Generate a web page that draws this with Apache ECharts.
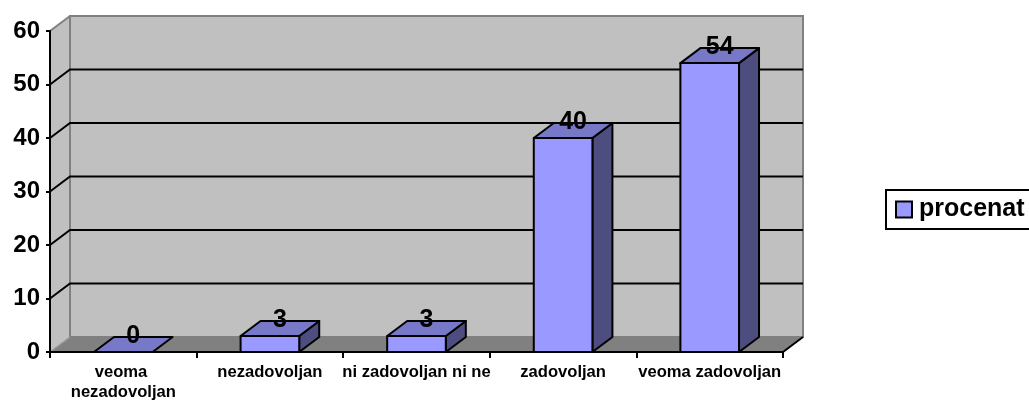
<!DOCTYPE html>
<html>
<head>
<meta charset="utf-8">
<script src="https://cdn.jsdelivr.net/npm/echarts@6/dist/echarts.min.js"></script>
<style>
html,body{margin:0;padding:0;background:#fff;}
#chart{width:1029px;height:404px;}
</style>
</head>
<body>
<div id="chart"></div>
<script>
const categories = ['veoma nezadovoljan', 'nezadovoljan', 'ni zadovoljan ni ne', 'zadovoljan', 'veoma zadovoljan'];
const values = [0, 3, 3, 40, 54];
const seriesName = 'procenat';
const gridValues = [10, 20, 30, 40, 50];

const DX = 20, DY = 15;
const FONT = '"Liberation Sans", Arial, sans-serif';

const chart = echarts.init(document.getElementById('chart'));

function wallRender(params, api) {
  const cs = params.coordSys;
  const x0 = cs.x, x1 = cs.x + cs.width, yT = cs.y, yB = cs.y + cs.height;
  return {
    type: 'group',
    children: [
      { type: 'polygon', shape: { points: [[x0, yT], [x0 + DX, yT - DY], [x0 + DX, yB - DY], [x0, yB]] },
        style: { fill: '#C0C0C0', stroke: null } },
      { type: 'rect', shape: { x: x0 + DX, y: yT - DY, width: cs.width, height: cs.height } ,
        style: { fill: '#C0C0C0', stroke: '#808080', lineWidth: 2 } },
      { type: 'line', shape: { x1: x0, y1: yT, x2: x0 + DX, y2: yT - DY },
        style: { stroke: '#808080', lineWidth: 2 } },
      { type: 'polygon', shape: { points: [[x0, yB], [x1, yB], [x1 + DX, yB - DY], [x0 + DX, yB - DY]] },
        style: { fill: '#808080', stroke: null } },
      { type: 'line', shape: { x1: x0, y1: yB, x2: x0 + DX, y2: yB - DY },
        style: { stroke: '#9a9a9a', lineWidth: 1.5 } },
      { type: 'line', shape: { x1: x1, y1: yB, x2: x1 + DX, y2: yB - DY },
        style: { stroke: '#000', lineWidth: 2 } }
    ]
  };
}

function gridRender(params, api) {
  const cs = params.coordSys;
  const x0 = cs.x, x1 = cs.x + cs.width;
  const y = api.coord([0, api.value(1)])[1];
  return {
    type: 'polyline',
    shape: { points: [[x0, y], [x0 + DX, y - DY], [x1 + DX, y - DY]] },
    style: { stroke: '#000', lineWidth: 2, fill: null }
  };
}

function barRender(params, api) {
  const v = api.value(1);
  const top = api.coord([api.value(0), v]);
  const base = api.coord([api.value(0), 0]);
  const bw = api.size([1, 0])[0] * 0.4;
  const l = top[0] - bw / 2, r = top[0] + bw / 2, t = top[1], b = base[1];
  const stroke = { stroke: '#000', lineWidth: 2, lineJoin: 'round' };
  const children = [];
  if (b - t > 0.5) {
    children.push({ type: 'polygon', shape: { points: [[r, t], [r + DX, t - DY], [r + DX, b - DY], [r, b]] },
      style: Object.assign({ fill: '#4D4D80' }, stroke) });
    children.push({ type: 'rect', shape: { x: l, y: t, width: bw, height: b - t },
      style: Object.assign({ fill: '#9999FF' }, stroke) });
  }
  children.push({ type: 'polygon', shape: { points: [[l, t], [r, t], [r + DX, t - DY], [l + DX, t - DY]] },
    style: Object.assign({ fill: '#7878C8' }, stroke) });
  children.push({ type: 'text', x: top[0] + DX / 2, y: t - 3,
    style: { text: String(v), fill: '#000', font: 'bold 25px ' + FONT, textAlign: 'center', textVerticalAlign: 'bottom' } });
  return { type: 'group', children: children };
}

chart.setOption({
  animation: false,
  backgroundColor: '#fff',
  grid: { left: 50, top: 31, width: 733, height: 321, containLabel: false },
  legend: {
    data: [seriesName],
    left: 886, top: 190,
    orient: 'vertical',
    borderColor: '#000', borderWidth: 2,
    padding: [7, 14, 7, 9],
    icon: 'rect', itemWidth: 16, itemHeight: 16, itemGap: 0,
    itemStyle: { color: '#9999FF', borderColor: '#000', borderWidth: 2 },
    textStyle: { color: '#000', fontWeight: 'bold', fontSize: 25, fontFamily: FONT, padding: [0, 0, 0, 2] }
  },
  xAxis: {
    type: 'category',
    data: categories,
    boundaryGap: true,
    z: 10,
    axisLine: { show: true, lineStyle: { color: '#000', width: 2 } },
    axisTick: { show: true, length: 6, interval: 0, lineStyle: { color: '#000', width: 2 } },
    axisLabel: { interval: 0, margin: 10, color: '#000', fontWeight: 'bold', fontSize: 16.6, fontFamily: FONT,
      lineHeight: 20, width: 152, overflow: 'break' },
    splitLine: { show: false }
  },
  yAxis: {
    type: 'value',
    min: 0, max: 60, interval: 10,
    z: 10,
    axisLine: { show: true, lineStyle: { color: '#000', width: 2 } },
    axisTick: { show: true, length: 4, lineStyle: { color: '#000', width: 2 } },
    axisLabel: { margin: 10, color: '#000', fontWeight: 'bold', fontSize: 24, fontFamily: FONT },
    splitLine: { show: false }
  },
  series: [
    { type: 'custom', name: 'walls', silent: true, z: 1, clip: false, renderItem: wallRender, data: [[0, 0]] },
    { type: 'custom', name: 'grid', silent: true, z: 2, clip: false, renderItem: gridRender,
      data: gridValues.map(v => [0, v]) },
    { type: 'custom', name: seriesName, z: 3, clip: false, renderItem: barRender,
      itemStyle: { color: '#9999FF' },
      encode: { x: 0, y: 1 },
      data: values.map((v, i) => [i, v]) }
  ]
});
</script>
</body>
</html>
